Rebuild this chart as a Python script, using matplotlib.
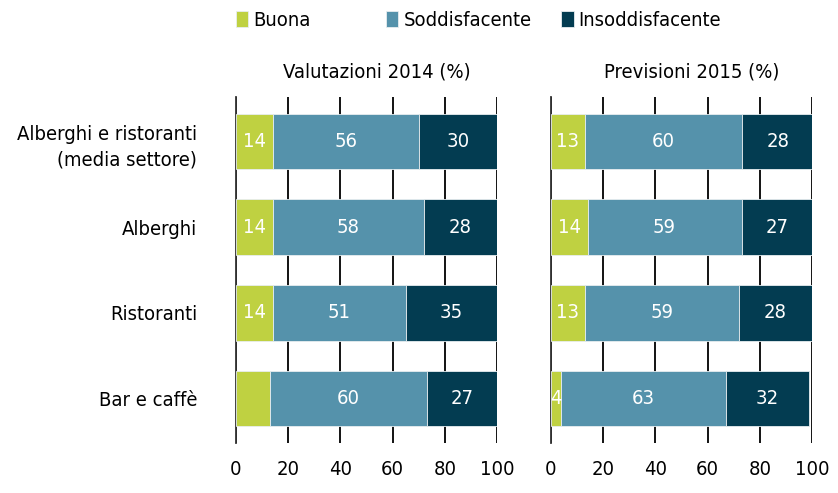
import matplotlib
matplotlib.use("Agg")
import matplotlib.pyplot as plt
import numpy as np

plt.rcParams['font.family'] = ['DejaVu Sans']
plt.rcParams['font.stretch'] = 'condensed'
plt.rcParams['font.weight'] = 'light'

categorie = ["Alberghi e ristoranti\n(media settore)", "Alberghi", "Ristoranti", "Bar e caffè"]
serie = ["Buona", "Soddisfacente", "Insoddisfacente"]
colori = ["#bfd141", "#5592ab", "#033c51"]

# Valutazioni 2014 (%)
buona_2014 = [14, 14, 14, 13]
soddisf_2014 = [56, 58, 51, 60]
insoddisf_2014 = [30, 28, 35, 27]
# etichette mostrate nel grafico originale (il 13 di Bar e caffè non c'è)
etichetta_buona_2014 = [True, True, True, False]

# Previsioni 2015 (%)
buona_2015 = [13, 14, 13, 4]
soddisf_2015 = [60, 59, 59, 63]
insoddisf_2015 = [28, 27, 28, 32]
etichetta_buona_2015 = [True, True, True, True]

ticks_x = [0, 20, 40, 60, 80, 100]

fig = plt.figure(figsize=(8.38, 4.93), dpi=100)
ax1 = fig.add_axes([0.2816, 0.1014, 0.3115, 0.7018])
ax2 = fig.add_axes([0.6575, 0.1014, 0.3115, 0.7018])

FS = 14.5


def disegna(ax, dati, mostra_buona, titolo, con_categorie):
    y = np.arange(len(categorie))
    left = np.zeros(len(categorie))
    for i, (vals, col) in enumerate(zip(dati, colori)):
        vals = np.array(vals, dtype=float)
        ax.barh(y, vals, left=left, height=0.65, color=col, edgecolor="#e8eef0",
                linewidth=0.6, zorder=3, label=serie[i])
        for j, v in enumerate(vals):
            if i == 0 and not mostra_buona[j]:
                continue
            ax.text(left[j] + v / 2, y[j], "%d" % v, ha="center", va="center",
                    color="white", fontsize=FS, zorder=4)
        left += vals
    ax.set_xlim(0, 100)
    ax.set_ylim(len(categorie) - 0.48, -0.52)
    ax.set_xticks(ticks_x)
    ax.xaxis.grid(True, color="black", linewidth=1.3, zorder=0)
    ax.set_axisbelow(True)
    for s in ["top", "right", "bottom"]:
        ax.spines[s].set_visible(False)
    ax.spines["left"].set_color("#333333")
    ax.spines["left"].set_linewidth(1.3)
    ax.tick_params(axis="x", length=0, pad=12, labelsize=FS)
    ax.tick_params(axis="y", length=0, pad=28, labelsize=FS)
    ax.set_yticks(np.arange(len(categorie)))
    if con_categorie:
        ax.set_yticklabels(categorie, ha="right", linespacing=1.45)
    else:
        ax.set_yticklabels([])
    ax.set_title(titolo, fontsize=FS, pad=14, x=0.538)


disegna(ax1, [buona_2014, soddisf_2014, insoddisf_2014], etichetta_buona_2014,
        "Valutazioni 2014 (%)", True)
disegna(ax2, [buona_2015, soddisf_2015, insoddisf_2015], etichetta_buona_2015,
        "Previsioni 2015 (%)", False)

# legenda: una voce alla volta, come nell'originale (spaziature diverse)
handles, labels = ax1.get_legend_handles_labels()
pos_legenda = [0.282, 0.461, 0.670]
for h, l, xl in zip(handles, labels, pos_legenda):
    fig.legend([h], [l], loc="center left", bbox_to_anchor=(xl, 0.959),
               frameon=False, fontsize=FS, handlelength=0.6, handleheight=0.9,
               handletextpad=0.25, borderpad=0, borderaxespad=0)

fig.savefig("out.png", dpi=100)
